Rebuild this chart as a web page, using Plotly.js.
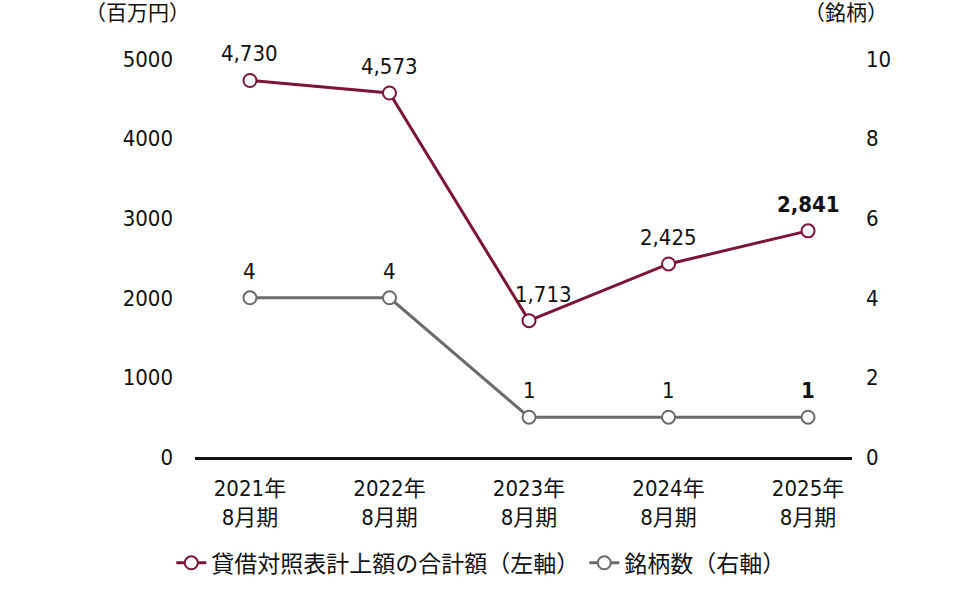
<!DOCTYPE html>
<html>
<head>
<meta charset="utf-8">
<script src="https://cdn.plot.ly/plotly-3.0.1.min.js"></script>
<style>html,body{margin:0;padding:0;background:#fff;}#chart{width:978px;height:596px;}</style>
</head>
<body>
<div id="chart"></div>
<script>
const categories = ["2021年<br>8月期", "2022年<br>8月期", "2023年<br>8月期", "2024年<br>8月期", "2025年<br>8月期"];
const amountValues = [4730, 4573, 1713, 2425, 2841];
const countValues = [4, 4, 1, 1, 1];
const leftTicks = [0, 1000, 2000, 3000, 4000, 5000];
const rightTicks = [0, 2, 4, 6, 8, 10];
const seriesNames = ["貸借対照表計上額の合計額（左軸）", "銘柄数（右軸）"];

const FONT = "DejaVu Sans Condensed, Liberation Sans Narrow, Noto Sans CJK JP, sans-serif";
const RED = "#7a1533";
const GRAY = "#6b6b6b";

function fmt(v){ return v.toLocaleString("en-US"); }
function lbl(v, i, arr){ return i === arr.length - 1 ? "<b>" + fmt(v) + "</b>" : fmt(v); }

const traces = [
  {
    x: categories, y: amountValues, name: seriesNames[0], type: "scatter", mode: "lines+markers",
    line: {color: RED, width: 3},
    marker: {symbol: "circle", size: 13, color: "#fff", line: {color: RED, width: 2}},
    cliponaxis: false, yaxis: "y"
  },
  {
    x: categories, y: countValues, name: seriesNames[1], type: "scatter", mode: "lines+markers",
    line: {color: GRAY, width: 3},
    marker: {symbol: "circle", size: 13, color: "#fff", line: {color: GRAY, width: 2}},
    cliponaxis: false, yaxis: "y2"
  }
];

const annotations = [];
amountValues.forEach((v, i, arr) => {
  // the local minimum label sits slightly right of its point, as in the reference
  const isMin = v === Math.min(...arr);
  annotations.push({
    x: categories[i], y: v, xref: "x", yref: "y", text: lbl(v, i, arr), showarrow: false,
    yanchor: "bottom", yshift: 12, xshift: isMin ? 14 : 0,
    font: {family: FONT, size: 22, color: "#111"}
  });
});
countValues.forEach((v, i, arr) => annotations.push({
  x: categories[i], y: v, xref: "x", yref: "y2", text: lbl(v, i, arr), showarrow: false,
  yanchor: "bottom", yshift: 12, font: {family: FONT, size: 22, color: "#111"}
}));
annotations.push({
  xref: "paper", yref: "paper", x: 0, y: 1.0, yshift: 46, xshift: -3, xanchor: "right", yanchor: "middle",
  text: "（百万円）", showarrow: false, font: {family: FONT, size: 21, color: "#111"}
});
annotations.push({
  xref: "paper", yref: "paper", x: 1.0, y: 1.0, yshift: 46, xshift: 38, xanchor: "right", yanchor: "middle",
  text: "（銘柄）", showarrow: false, font: {family: FONT, size: 21, color: "#111"}
});

const layout = {
  width: 978, height: 596,
  margin: {l: 195, r: 126, t: 59, b: 135},
  paper_bgcolor: "#fff", plot_bgcolor: "#fff",
  showlegend: true,
  font: {family: FONT, size: 21, color: "#111"},
  xaxis: {
    type: "category", range: [-0.394, 4.315], showgrid: false, zeroline: false,
    showline: true, linecolor: "#111", linewidth: 2.5, ticks: "", ticklabelstandoff: 10,
    tickfont: {family: FONT, size: 22, color: "#111"}, fixedrange: true
  },
  yaxis: {
    range: [0, 5000], tickvals: leftTicks, ticktext: leftTicks.map(String),
    showgrid: false, zeroline: false, showline: false, ticks: "", ticklabelstandoff: 21,
    tickfont: {family: FONT, size: 22, color: "#111"}
  },
  yaxis2: {
    range: [0, 10], tickvals: rightTicks, ticktext: rightTicks.map(String),
    overlaying: "y", side: "right", showgrid: false, zeroline: false, showline: false,
    ticks: "", ticklabelstandoff: 13,
    tickfont: {family: FONT, size: 22, color: "#111"}
  },
  legend: {
    orientation: "h", x: 0.435, xanchor: "center", y: -0.266, yanchor: "middle",
    font: {family: FONT, size: 23, color: "#111"}, itemwidth: 30, tracegroupgap: 0
  },
  annotations: annotations
};

Plotly.newPlot("chart", traces, layout, {displayModeBar: false, staticPlot: true});
</script>
</body>
</html>
